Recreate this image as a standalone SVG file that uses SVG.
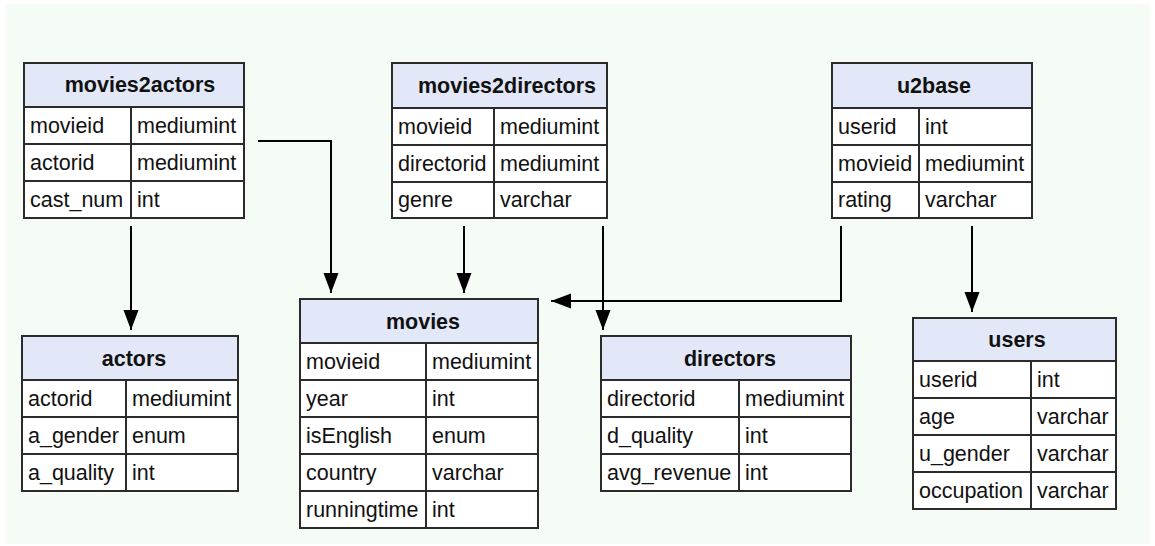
<svg xmlns="http://www.w3.org/2000/svg" width="1155" height="546" viewBox="0 0 1155 546">
  <style>
    .hdr { fill: #e3e8f8; stroke: #2b2b2b; stroke-width: 2; }
    .cell { fill: #ffffff; stroke: #2b2b2b; stroke-width: 2; }
    .title { font-family: "Liberation Sans", Arial, sans-serif; font-size: 21.5px; font-weight: bold; fill: #111; text-anchor: middle; }
    .fld { font-family: "Liberation Sans", Arial, sans-serif; font-size: 21.5px; fill: #111; }
    .edge { fill: none; stroke: #000; stroke-width: 2; }
  </style>
  <defs>
    <marker id="arrow" markerUnits="userSpaceOnUse" markerWidth="20" markerHeight="16" refX="20" refY="7.5" orient="auto">
      <path d="M0,0 L20,7.5 L0,15 z" fill="#000"/>
    </marker>
  </defs>

  <rect x="0" y="0" width="1155" height="546" fill="#ffffff"/>
  <rect x="5" y="4" width="1145" height="540" fill="#f5fbf5"/>

  <!-- movies2actors -->
  <g id="movies2actors">
    <rect class="hdr" x="24" y="63" width="220" height="44"/>
    <text class="title" x="140" y="92">movies2actors</text>
    <rect class="cell" x="24" y="107" width="107" height="37"/>
    <rect class="cell" x="131" y="107" width="113" height="37"/>
    <rect class="cell" x="24" y="144" width="107" height="37"/>
    <rect class="cell" x="131" y="144" width="113" height="37"/>
    <rect class="cell" x="24" y="181" width="107" height="37"/>
    <rect class="cell" x="131" y="181" width="113" height="37"/>
    <text class="fld" x="30" y="133">movieid</text><text class="fld" x="137" y="133">mediumint</text>
    <text class="fld" x="30" y="170">actorid</text><text class="fld" x="137" y="170">mediumint</text>
    <text class="fld" x="30" y="207">cast_num</text><text class="fld" x="137" y="207">int</text>
  </g>

  <!-- movies2directors -->
  <g id="movies2directors">
    <rect class="hdr" x="392" y="63" width="215" height="45"/>
    <text class="title" x="507" y="93">movies2directors</text>
    <rect class="cell" x="392" y="108" width="102" height="37"/>
    <rect class="cell" x="494" y="108" width="113" height="37"/>
    <rect class="cell" x="392" y="145" width="102" height="37"/>
    <rect class="cell" x="494" y="145" width="113" height="37"/>
    <rect class="cell" x="392" y="182" width="102" height="36"/>
    <rect class="cell" x="494" y="182" width="113" height="36"/>
    <text class="fld" x="398" y="134">movieid</text><text class="fld" x="500" y="134">mediumint</text>
    <text class="fld" x="398" y="171">directorid</text><text class="fld" x="500" y="171">mediumint</text>
    <text class="fld" x="398" y="207">genre</text><text class="fld" x="500" y="207">varchar</text>
  </g>

  <!-- u2base -->
  <g id="u2base">
    <rect class="hdr" x="832" y="63" width="200" height="45"/>
    <text class="title" x="934" y="93">u2base</text>
    <rect class="cell" x="832" y="108" width="87" height="37"/>
    <rect class="cell" x="919" y="108" width="113" height="37"/>
    <rect class="cell" x="832" y="145" width="87" height="37"/>
    <rect class="cell" x="919" y="145" width="113" height="37"/>
    <rect class="cell" x="832" y="182" width="87" height="36"/>
    <rect class="cell" x="919" y="182" width="113" height="36"/>
    <text class="fld" x="838" y="134">userid</text><text class="fld" x="925" y="134">int</text>
    <text class="fld" x="838" y="171">movieid</text><text class="fld" x="925" y="171">mediumint</text>
    <text class="fld" x="838" y="207">rating</text><text class="fld" x="925" y="207">varchar</text>
  </g>

  <!-- actors -->
  <g id="actors">
    <rect class="hdr" x="22" y="336" width="216" height="44"/>
    <text class="title" x="134" y="366">actors</text>
    <rect class="cell" x="22" y="380" width="104" height="37"/>
    <rect class="cell" x="126" y="380" width="112" height="37"/>
    <rect class="cell" x="22" y="417" width="104" height="37"/>
    <rect class="cell" x="126" y="417" width="112" height="37"/>
    <rect class="cell" x="22" y="454" width="104" height="37"/>
    <rect class="cell" x="126" y="454" width="112" height="37"/>
    <text class="fld" x="28" y="406">actorid</text><text class="fld" x="132" y="406">mediumint</text>
    <text class="fld" x="28" y="443">a_gender</text><text class="fld" x="132" y="443">enum</text>
    <text class="fld" x="28" y="480">a_quality</text><text class="fld" x="132" y="480">int</text>
  </g>

  <!-- movies -->
  <g id="movies">
    <rect class="hdr" x="300" y="299" width="238" height="44"/>
    <text class="title" x="423" y="329">movies</text>
    <rect class="cell" x="300" y="343" width="126" height="37"/>
    <rect class="cell" x="426" y="343" width="112" height="37"/>
    <rect class="cell" x="300" y="380" width="126" height="37"/>
    <rect class="cell" x="426" y="380" width="112" height="37"/>
    <rect class="cell" x="300" y="417" width="126" height="37"/>
    <rect class="cell" x="426" y="417" width="112" height="37"/>
    <rect class="cell" x="300" y="454" width="126" height="37"/>
    <rect class="cell" x="426" y="454" width="112" height="37"/>
    <rect class="cell" x="300" y="491" width="126" height="37"/>
    <rect class="cell" x="426" y="491" width="112" height="37"/>
    <text class="fld" x="306" y="369">movieid</text><text class="fld" x="432" y="369">mediumint</text>
    <text class="fld" x="306" y="406">year</text><text class="fld" x="432" y="406">int</text>
    <text class="fld" x="306" y="443">isEnglish</text><text class="fld" x="432" y="443">enum</text>
    <text class="fld" x="306" y="480">country</text><text class="fld" x="432" y="480">varchar</text>
    <text class="fld" x="306" y="517">runningtime</text><text class="fld" x="432" y="517">int</text>
  </g>

  <!-- directors -->
  <g id="directors">
    <rect class="hdr" x="601" y="336" width="250" height="44"/>
    <text class="title" x="730" y="366">directors</text>
    <rect class="cell" x="601" y="380" width="138" height="37"/>
    <rect class="cell" x="739" y="380" width="112" height="37"/>
    <rect class="cell" x="601" y="417" width="138" height="37"/>
    <rect class="cell" x="739" y="417" width="112" height="37"/>
    <rect class="cell" x="601" y="454" width="138" height="37"/>
    <rect class="cell" x="739" y="454" width="112" height="37"/>
    <text class="fld" x="607" y="406">directorid</text><text class="fld" x="745" y="406">mediumint</text>
    <text class="fld" x="607" y="443">d_quality</text><text class="fld" x="745" y="443">int</text>
    <text class="fld" x="607" y="480">avg_revenue</text><text class="fld" x="745" y="480">int</text>
  </g>

  <!-- users -->
  <g id="users">
    <rect class="hdr" x="913" y="318" width="203" height="43"/>
    <text class="title" x="1017" y="347">users</text>
    <rect class="cell" x="913" y="361" width="118" height="37"/>
    <rect class="cell" x="1031" y="361" width="85" height="37"/>
    <rect class="cell" x="913" y="398" width="118" height="37"/>
    <rect class="cell" x="1031" y="398" width="85" height="37"/>
    <rect class="cell" x="913" y="435" width="118" height="37"/>
    <rect class="cell" x="1031" y="435" width="85" height="37"/>
    <rect class="cell" x="913" y="472" width="118" height="37"/>
    <rect class="cell" x="1031" y="472" width="85" height="37"/>
    <text class="fld" x="919" y="387">userid</text><text class="fld" x="1037" y="387">int</text>
    <text class="fld" x="919" y="424">age</text><text class="fld" x="1037" y="424">varchar</text>
    <text class="fld" x="919" y="461">u_gender</text><text class="fld" x="1037" y="461">varchar</text>
    <text class="fld" x="919" y="498">occupation</text><text class="fld" x="1037" y="498">varchar</text>
  </g>

  <!-- foreign-key connectors -->
  <g id="connectors">
    <path class="edge" d="M131,226 V330" marker-end="url(#arrow)"/>
    <path class="edge" d="M258,141 H331 V293" marker-end="url(#arrow)"/>
    <path class="edge" d="M464,226 V293" marker-end="url(#arrow)"/>
    <path class="edge" d="M603,226 V330" marker-end="url(#arrow)"/>
    <path class="edge" d="M841,226 V301 H551" marker-end="url(#arrow)"/>
    <path class="edge" d="M972,226 V312" marker-end="url(#arrow)"/>
  </g>
</svg>
